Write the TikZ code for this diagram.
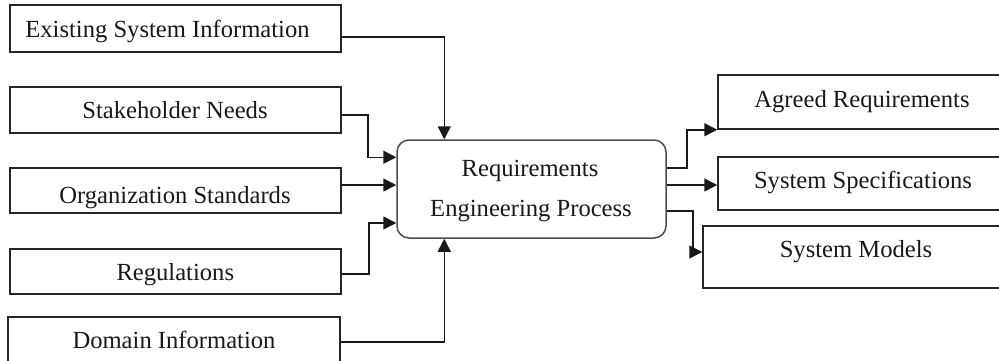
\documentclass[tikz,border=0pt]{standalone}
\usepackage{fontspec}
\setmainfont{Liberation Serif}
\usetikzlibrary{arrows.meta}
\begin{document}
\begin{tikzpicture}[x=1pt,y=-1pt,
  box/.style={draw=black!85, line width=1.5pt, rectangle, inner sep=0pt},
  procbox/.style={draw=black!70, line width=1.5pt, rectangle, rounded corners=12pt, inner sep=0pt, minimum width=269pt, minimum height=98pt},
  lbl/.style={anchor=base, inner sep=0pt, font=\fontsize{24.6}{28}\selectfont, text=black!90},
  arr/.style={draw=black!90, line width=1.5pt, -{Triangle[length=13pt,width=13pt]}}]
\useasboundingbox (0,0) rectangle (999,360);
\clip (0,0) rectangle (999,360);
\fill[white] (0,0) rectangle (999,360);
% left boxes
\node[box, minimum width=331pt, minimum height=47pt] (ex) at (175.5,28.5) {};
\node[box, minimum width=331pt, minimum height=46pt] (sh) at (175.5,110) {};
\node[box, minimum width=331pt, minimum height=45pt] (org) at (175.5,190.5) {};
\node[box, minimum width=331pt, minimum height=45pt] (reg) at (175.5,271.5) {};
\node[box, minimum width=332pt, minimum height=50pt] (dom) at (174,342) {};
% centre
\node[procbox] (rep) at (531.5,189) {};
% right boxes
\node[box, minimum width=292pt, minimum height=54pt] (ag) at (864,102) {};
\node[box, minimum width=292pt, minimum height=53pt] (sp) at (864,183.5) {};
\node[box, minimum width=307pt, minimum height=62pt] (mo) at (856.5,257) {};
% labels
\node[lbl] (exT) at (167.5,37) {Existing System Information};
\node[lbl] (shT) at (175,118) {Stakeholder Needs};
\node[lbl] (orgT) at (175,203) {Organization Standards};
\node[lbl] (regT) at (175.3,280) {Regulations};
\node[lbl] (domT) at (174,348) {Domain Information};
\node[lbl] (repT1) at (530,176) {Requirements};
\node[lbl] (repT2) at (531,216.7) {Engineering Process};
\node[lbl] (agT) at (862,107) {Agreed Requirements};
\node[lbl] (spT) at (863,188) {System Specifications};
\node[lbl] (moT) at (856,257) {System Models};
% connectors
\draw[arr] ([yshift=-8.5pt]ex.east) -| ([xshift=48pt]rep.north west);
\draw[arr] ([yshift=-5pt]sh.east) -- ++(26pt,0) |- ([yshift=-18pt]rep.north west);
\draw[arr] ([yshift=5.5pt]org.east) -- ([yshift=4pt]rep.west);
\draw[arr] ([yshift=-2.5pt]reg.east) -- ++(27pt,0) |- ([yshift=-34pt]rep.west);
\draw[arr] (dom.east) -| ([xshift=48pt]rep.south west);
\draw[arr] ([yshift=21pt]rep.east) -- ++(20pt,0) |- (ag.south west);
\draw[arr] ([yshift=4pt]rep.east) -- ([yshift=-1.5pt]sp.west);
\draw[arr] ([yshift=-22pt]rep.east) -- ++(26pt,0) |- ([yshift=5pt]mo.west);
\end{tikzpicture}
\end{document}
